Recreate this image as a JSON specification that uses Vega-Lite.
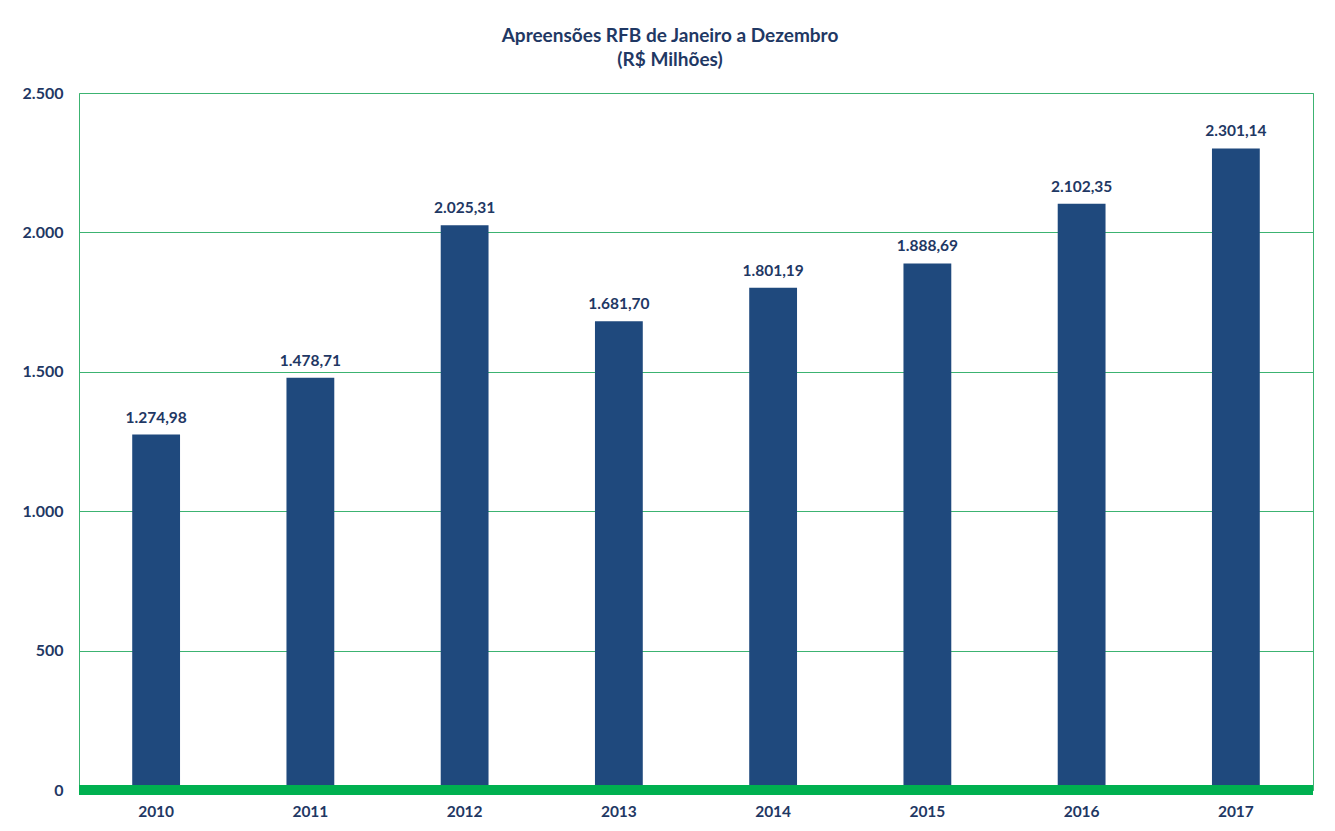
{
  "$schema": "https://vega.github.io/schema/vega-lite/v6.json",
  "autosize": {"type": "none"},
  "width": 1234,
  "height": 697,
  "padding": {"left": 79, "top": 93, "right": 22, "bottom": 41},
  "background": "white",
  "config": {
    "locale": {"number": {"decimal": ",", "thousands": ".", "grouping": [3], "currency": ["R$", ""]}},
    "font": "Lato",
    "view": {"stroke": "#3CB371", "strokeWidth": 1}
  },
  "title": {
    "text": ["Apreensões RFB de Janeiro a Dezembro", "(R$ Milhões)"],
    "anchor": "middle",
    "frame": "group",
    "dx": -26,
    "offset": 15,
    "fontSize": 19,
    "fontWeight": "bold",
    "color": "#1F3864",
    "lineHeight": 24,
    "font": "Lato"
  },
  "data": {
    "values": [
      {"ano": "2010", "valor": 1274.98},
      {"ano": "2011", "valor": 1478.71},
      {"ano": "2012", "valor": 2025.31},
      {"ano": "2013", "valor": 1681.70},
      {"ano": "2014", "valor": 1801.19},
      {"ano": "2015", "valor": 1888.69},
      {"ano": "2016", "valor": 2102.35},
      {"ano": "2017", "valor": 2301.14}
    ]
  },
  "layer": [
    {
      "mark": {"type": "bar", "color": "#1F497D"},
      "encoding": {
        "x": {
          "field": "ano", "type": "nominal", "title": null,
          "scale": {"paddingInner": 0.69, "paddingOuter": 0.345},
          "axis": {"labelAngle": 0, "domain": false, "ticks": false, "labelPadding": 14, "labelFontSize": 15.5, "labelFontWeight": "bold", "labelColor": "#1F3864", "labelFont": "Lato"}
        },
        "y": {
          "field": "valor", "type": "quantitative", "title": null,
          "scale": {"domain": [0, 2500], "nice": false},
          "axis": {"values": [0, 500, 1000, 1500, 2000, 2500], "format": ",d", "domain": false, "ticks": false, "labelPadding": 16, "labelFontSize": 16, "labelFontWeight": "bold", "labelColor": "#1F3864", "labelFont": "Lato", "gridColor": "#3CB371", "gridWidth": 1, "gridOpacity": 1}
        }
      }
    },
    {
      "mark": {"type": "text", "dy": -17, "fontSize": 15.5, "fontWeight": "bold", "color": "#1F3864", "font": "Lato"},
      "encoding": {
        "x": {"field": "ano", "type": "nominal"},
        "y": {"field": "valor", "type": "quantitative"},
        "text": {"field": "valor", "type": "quantitative", "format": ",.2f"}
      }
    },
    {
      "mark": {"type": "rule", "color": "#00B050", "strokeWidth": 9},
      "encoding": {"y": {"datum": 0}}
    }
  ]
}
